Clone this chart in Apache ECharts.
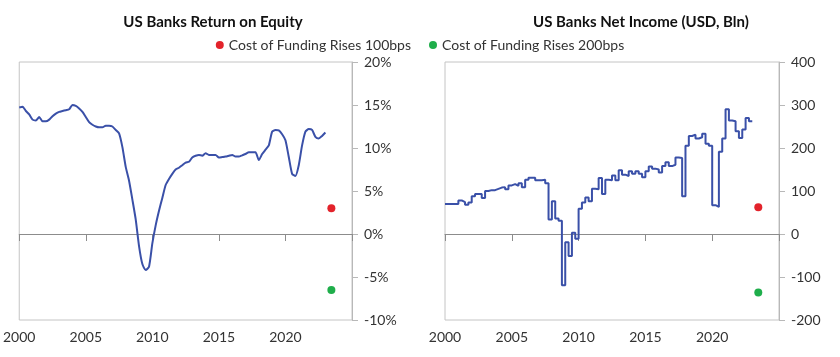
<!DOCTYPE html>
<html>
<head>
<meta charset="utf-8">
<script src="https://cdn.jsdelivr.net/npm/echarts@6/dist/echarts.min.js"></script>
<style>
html,body{margin:0;padding:0;background:#fff;}
#chart{width:840px;height:357px;}
</style>
</head>
<body>
<div id="chart"></div>
<script>
// ---- Data ----
const startYear = 2000;          // first quarterly observation
const quarterStep = 0.25;        // quarterly series

const titles = ['US Banks Return on Equity', 'US Banks Net Income (USD, Bln)'];
const scenarioNames = ['Cost of Funding Rises 100bps', 'Cost of Funding Rises 200bps'];
const scenarioYear = 2023.45;

// US Banks Return on Equity (%), quarterly 2000Q1 .. 2023Q1
const roeValues = [
  14.7, 14.8, 14.3, 13.9,
  13.3, 13.2, 13.6, 13.1,
  13.1, 13.3, 13.7, 14.0,
  14.2, 14.3, 14.4, 14.5,
  15.0, 14.9, 14.6, 14.2,
  13.6, 13.0, 12.7, 12.5,
  12.4, 12.4, 12.6, 12.6,
  12.5, 12.1, 11.7, 10.1,
  7.8, 6.2, 4.0, 1.7,
  -1.4, -3.5, -4.2, -3.8,
  -1.1, 1.0, 2.7, 4.2,
  5.7, 6.4, 7.0, 7.5,
  7.7, 8.0, 8.3, 8.4,
  8.9, 9.1, 9.2, 9.1,
  9.4, 9.2, 9.2, 9.2,
  8.9, 8.95, 9.0, 9.1,
  9.2, 9.0, 9.0, 9.15,
  9.3, 9.5, 9.5, 9.5,
  8.6, 9.3, 9.8, 10.3,
  11.9, 12.1, 12.05, 11.6,
  10.9, 8.95, 7.0, 6.75,
  8.0, 10.3, 11.9, 12.2,
  12.1, 11.3, 11.1, 11.4,
  11.8
];

// US Banks Net Income (USD bn, annualised), quarterly, stepped
const netIncomeValues = [
  70,
  70, 70, 70, 70,
  78, 74, 68, 73,
  88, 93, 93, 84,
  100, 102, 102, 105,
  108, 109, 104, 113,
  116, 112, 118, 109,
  126, 131, 131, 125,
  125, 126, 118, 34,
  76, 36, 31, -119,
  -19, -51, 3, -11,
  59, 73, 85, 76,
  105, 104, 130, 93,
  126, 125, 136, 125,
  148, 138, 135, 146,
  140, 146, 140, 132,
  146, 157, 152, 150,
  143, 158, 167, 158,
  161, 178, 177, 88,
  205, 228, 231, 222,
  225, 233, 210, 205,
  67, 63, 191, 222,
  290, 264, 262, 239,
  223, 243, 270, 262
];

const roeScenario = [3.0, -6.5];        // 100bps, 200bps
const incomeScenario = [62, -136];      // 100bps, 200bps

const roeTicks = { min: -10, max: 20, interval: 5 };
const incomeTicks = { min: -200, max: 400, interval: 100 };
const yearTicks = { min: 2000, max: 2025, interval: 5 };

// ---- Build ----
const toPairs = (vals) => vals.map((v, i) => [startYear + i * quarterStep, v]);

const FONT = 'Lato';
const LINE = '#3a50a8';
const RED = '#e3232b';
const GREEN = '#1fae4b';
const GRIDS = [
  { left: 18, right: 488, top: 62, bottom: 37 },
  { left: 445, right: 61, top: 62, bottom: 37 }
];

const chart = echarts.init(document.getElementById('chart'), null, { renderer: 'canvas' });

const xAxes = [];
const yAxes = [];
GRIDS.forEach((g, gi) => {
  // bottom axis: labels only
  xAxes.push({
    type: 'value', gridIndex: gi, position: 'bottom',
    min: yearTicks.min, max: yearTicks.max, interval: yearTicks.interval,
    axisLine: { show: false, onZero: false }, axisTick: { show: false },
    splitLine: { show: false },
    axisLabel: {
      color: '#333', fontFamily: FONT, fontSize: 14, margin: 10,
      formatter: (v) => (v === yearTicks.max ? '' : String(v))
    }
  });
  // zero line with ticks
  xAxes.push({
    type: 'value', gridIndex: gi, position: 'top',
    min: yearTicks.min, max: yearTicks.max, interval: yearTicks.interval,
    axisLine: { show: true, onZero: true, lineStyle: { color: '#8c8c8c', width: 1 } },
    axisTick: { show: true, inside: true, length: 7, lineStyle: { color: '#8c8c8c' } },
    axisLabel: { show: false }, splitLine: { show: false }
  });
  const t = gi === 0 ? roeTicks : incomeTicks;
  yAxes.push({
    type: 'value', gridIndex: gi, position: 'right',
    min: t.min, max: t.max, interval: t.interval,
    axisLine: { show: true, lineStyle: { color: '#b8b8b8' } },
    axisTick: { show: true, length: 6, lineStyle: { color: '#b8b8b8' } },
    splitLine: { show: false },
    axisLabel: {
      color: '#333', fontFamily: FONT, fontSize: 14, margin: 12,
      formatter: gi === 0 ? '{value}%' : '{value}'
    }
  });
});

const dot = (color) => ({ color: color, opacity: 1 });

const option = {
  animation: false,
  backgroundColor: '#fff',
  title: [
    { text: titles[0], left: 208, top: 10, textAlign: 'center',
      textStyle: { fontFamily: FONT, fontWeight: 'bold', fontSize: 15, color: '#111' } },
    { text: titles[1], left: 636, top: 10, textAlign: 'center',
      textStyle: { fontFamily: FONT, fontWeight: 'bold', fontSize: 15, color: '#111' } }
  ],
  legend: {
    data: scenarioNames.map((n, i) => ({ name: n, icon: 'circle', itemStyle: { color: i === 0 ? RED : GREEN, opacity: 1 } })),
    left: 'center', top: 33, itemWidth: 8, itemHeight: 8, itemGap: 18,
    textStyle: { fontFamily: FONT, fontSize: 14, color: '#333' }
  },
  grid: GRIDS.map((g) => Object.assign({ show: true, borderColor: '#c4c4c4', borderWidth: 1, backgroundColor: 'transparent' }, g)),
  xAxis: xAxes,
  yAxis: yAxes,
  series: [
    { type: 'line', name: 'ROE', xAxisIndex: 0, yAxisIndex: 0, data: toPairs(roeValues),
      smooth: 0.2, showSymbol: false, lineStyle: { color: LINE, width: 2 }, z: 3 },
    { type: 'line', name: 'Net Income', xAxisIndex: 2, yAxisIndex: 1, data: toPairs(netIncomeValues),
      step: 'start', showSymbol: false, lineStyle: { color: LINE, width: 2 }, z: 3 },
    { type: 'scatter', name: scenarioNames[0], xAxisIndex: 0, yAxisIndex: 0,
      data: [[scenarioYear, roeScenario[0]]], symbolSize: 8, itemStyle: dot(RED) },
    { type: 'scatter', name: scenarioNames[1], xAxisIndex: 0, yAxisIndex: 0,
      data: [[scenarioYear, roeScenario[1]]], symbolSize: 8, itemStyle: dot(GREEN) },
    { type: 'scatter', name: scenarioNames[0], xAxisIndex: 2, yAxisIndex: 1,
      data: [[scenarioYear, incomeScenario[0]]], symbolSize: 8, itemStyle: dot(RED) },
    { type: 'scatter', name: scenarioNames[1], xAxisIndex: 2, yAxisIndex: 1,
      data: [[scenarioYear, incomeScenario[1]]], symbolSize: 8, itemStyle: dot(GREEN) }
  ]
};
chart.setOption(option);
</script>
</body>
</html>
